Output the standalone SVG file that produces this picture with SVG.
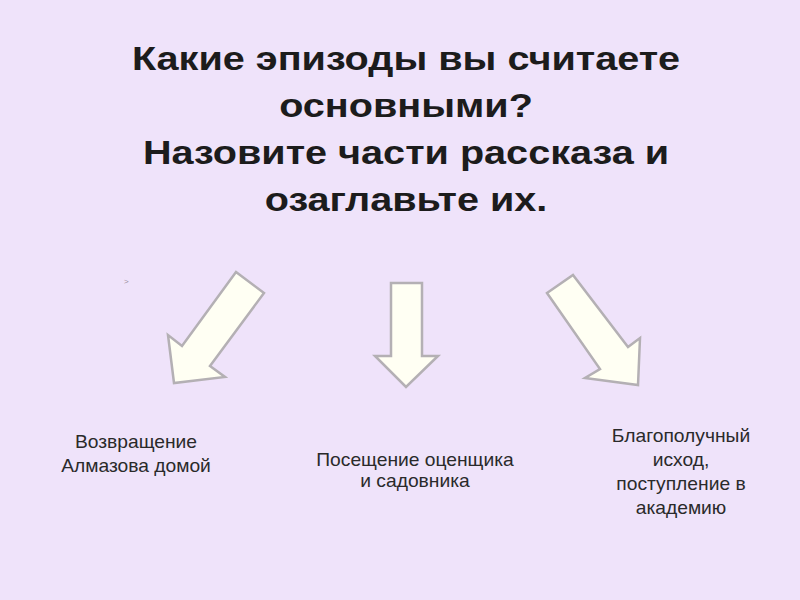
<svg xmlns="http://www.w3.org/2000/svg" width="800" height="600" viewBox="0 0 800 600">
<style>
.title{font-family:"Liberation Sans",Arial,sans-serif;font-weight:bold;font-size:34px;fill:#1c1c1c;text-anchor:middle}
.lbl{font-family:"Liberation Sans",Arial,sans-serif;font-size:17.5px;fill:#2a2a2a;text-anchor:middle}
.arrow{fill:#fffff3;stroke:#b4b0b4;stroke-width:2.5;stroke-linejoin:miter}
</style>
<rect width="800" height="600" fill="#efe3fa"/>
<g id="title" transform="translate(406,0) scale(1.165,1)">
<text class="title" x="0" y="70">Какие эпизоды вы считаете</text>
<text class="title" x="0" y="117">основными?</text>
<text class="title" x="0" y="164">Назовите части рассказа и</text>
<text class="title" x="0" y="211">озаглавьте их.</text>
</g>
<text x="124" y="284" font-family="Liberation Sans,sans-serif" font-size="8" fill="#9a90a0">&gt;</text>
<g id="connectors">
<polygon class="arrow" points="236,272 264,293 210,366 225,377 174,383 168,335 182,346"/>
<polygon class="arrow" points="391,283 422,283 422,356 438,356 406,387 375,356 391,356"/>
<polygon class="arrow" points="547,293 573,275 628,347 640,338 638,385 585,378 600,369"/>
</g>
<g id="node1" transform="translate(136,0) scale(1.1,1)">
<text class="lbl" x="0" y="448">Возвращение</text>
<text class="lbl" x="0" y="472">Алмазова домой</text>
</g>
<g id="node2" transform="translate(415,0) scale(1.1,1)">
<text class="lbl" x="0" y="466">Посещение оценщика</text>
<text class="lbl" x="0" y="487">и садовника</text>
</g>
<g id="node3" transform="translate(681,0) scale(1.1,1)">
<text class="lbl" x="0" y="442">Благополучный</text>
<text class="lbl" x="0" y="466">исход,</text>
<text class="lbl" x="0" y="490">поступление в</text>
<text class="lbl" x="0" y="514">академию</text>
</g>
</svg>
